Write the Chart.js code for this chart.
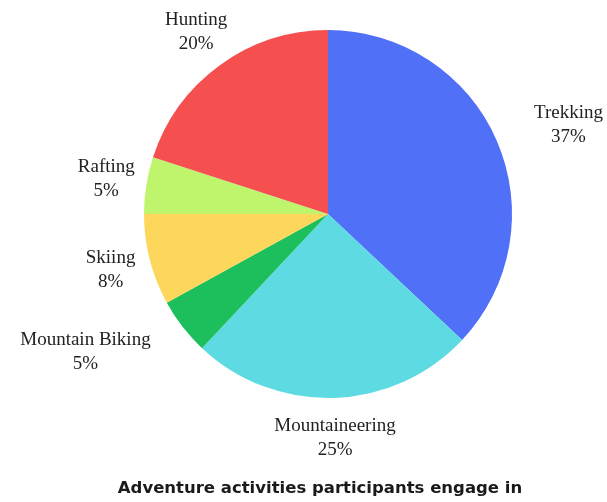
<!DOCTYPE html>
<html>
<head>
<meta charset="utf-8">
<script src="https://cdn.jsdelivr.net/npm/chart.js@4.4.0/dist/chart.umd.min.js"></script>
<style>
  html, body { margin: 0; padding: 0; background: #ffffff; }
  #wrap { width: 607px; height: 502px; position: relative; }
</style>
</head>
<body>
<div id="wrap"><canvas id="c" width="607" height="502"></canvas></div>
<script>
const categories = ["Trekking", "Mountaineering", "Mountain Biking", "Skiing", "Rafting", "Hunting"];
const shares = [37, 25, 5, 8, 5, 20];
const sliceColors = ["#5070F8", "#5DDAE2", "#1DBF5C", "#FDD75C", "#BEF56C", "#F54F4F"];
const chartTitle = "Adventure activities participants engage in";

const labelPlugin = {
  id: 'outsideLabels',
  afterDatasetsDraw(chart) {
    const ctx = chart.ctx;
    const meta = chart.getDatasetMeta(0);
    ctx.save();
    ctx.font = '19px "Liberation Serif", "Times New Roman", serif';
    ctx.fillStyle = '#222222';
    ctx.textBaseline = 'middle';
    const halfH = 23;
    meta.data.forEach((arc, i) => {
      const p = arc.getProps(['x', 'y', 'startAngle', 'endAngle', 'outerRadius'], true);
      const mid = (p.startAngle + p.endAngle) / 2;
      const R = p.outerRadius * 1.22;
      const ax = p.x + Math.cos(mid) * R;
      const ay = p.y + Math.sin(mid) * R;
      const line1 = categories[i];
      const line2 = shares[i] + '%';
      const w = Math.max(ctx.measureText(line1).width, ctx.measureText(line2).width);
      const left = ax - w / 2, right = ax + w / 2, top = ay - halfH, bottom = ay + halfH;
      const nx = Math.max(left, Math.min(p.x, right));
      const ny = Math.max(top, Math.min(p.y, bottom));
      const d = Math.hypot(nx - p.x, ny - p.y);
      let cx = ax;
      if (d < p.outerRadius) {
        cx = Math.cos(mid) >= 0 ? ax + w / 2 : ax - w / 2;
      }
      ctx.textAlign = 'center';
      ctx.fillText(line1, cx, ay - 12);
      ctx.fillText(line2, cx, ay + 12);
    });
    ctx.font = '700 16.5px "DejaVu Sans", sans-serif';
    ctx.fillStyle = '#1a1a1a';
    ctx.textAlign = 'center';
    ctx.fillText(chartTitle, 320, 489);
    ctx.restore();
  }
};

new Chart(document.getElementById('c'), {
  type: 'pie',
  data: {
    labels: categories,
    datasets: [{
      data: shares,
      backgroundColor: sliceColors,
      borderWidth: 0
    }]
  },
  options: {
    responsive: false,
    animation: false,
    layout: { padding: { left: 144, top: 30, right: 95, bottom: 104 } },
    plugins: {
      legend: { display: false },
      tooltip: { enabled: false },
      title: { display: false }
    }
  },
  plugins: [labelPlugin]
});
</script>
</body>
</html>
